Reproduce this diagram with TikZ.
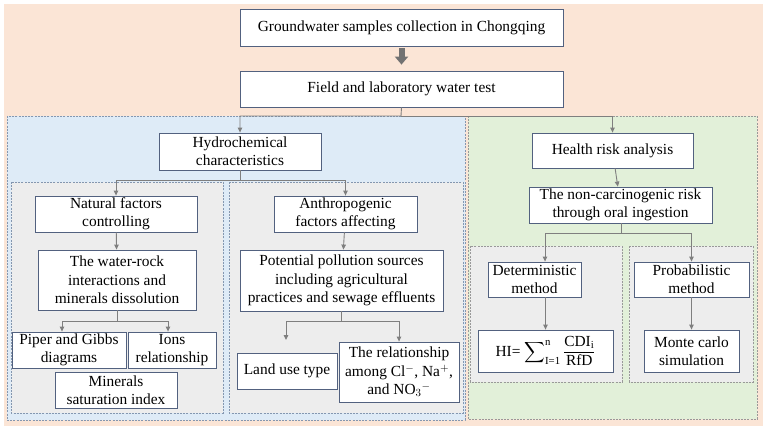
\documentclass[tikz,border=0pt]{standalone}
\usepackage{amsmath}
\usepackage{fontspec}
\setmainfont{Liberation Serif}
\usepackage{tikz}
\usetikzlibrary{arrows.meta}
\definecolor{mypeach}{HTML}{FBE5D6}
\definecolor{myblue}{HTML}{DEEBF7}
\definecolor{mygreen}{HTML}{E2F0D9}
\definecolor{mygray}{HTML}{EDEDED}
\definecolor{boxedge}{HTML}{52617F}
\definecolor{zoneedge}{HTML}{8497B0}
\definecolor{linkgray}{HTML}{7F7F7F}

\begin{document}
\begin{tikzpicture}[x=1pt,y=-1pt,
    box/.style={draw=boxedge, fill=white, line width=0.8pt, align=center,
                inner sep=1pt, font=\rmfamily\fontsize{15.4}{18.3}\selectfont},
    zone/.style={draw=zoneedge, line width=0.7pt, dash pattern=on 2pt off 1.2pt},
    link/.style={draw=linkgray, line width=0.9pt, -{Triangle[length=5pt,width=4.5pt]}},
    fatlink/.style={draw=linkgray!90!black, line width=6pt, -{Triangle[length=8pt,width=13pt]}}]
  \useasboundingbox (0,0) rectangle (767,430);
  % backgrounds
  \fill[mypeach] (4,4) rectangle (763,426);
  \draw[zone, fill=myblue] (7,116) rectangle (465,420);
  \draw[zone, draw=linkgray!80, fill=mygreen] (468,116) rectangle (757,419);
  \draw[zone, fill=mygray] (11,182) rectangle (223,413);
  \draw[zone, fill=mygray] (229,182) rectangle (463,413);
  \draw[zone, draw=linkgray!80, fill=mygray] (470,246) rectangle (622,382);
  \draw[zone, draw=linkgray!80, fill=mygray] (629,246) rectangle (753,382);

  \node[box, minimum width=323pt, minimum height=37pt] (T) at (401.5,27.5) {Groundwater samples collection in Chongqing};
  \node[box, minimum width=323pt, minimum height=36pt] (F) at (401.5,89) {Field and laboratory water test};
  \node[box, minimum width=162pt, minimum height=37pt] (H) at (240,151.5) {Hydrochemical\\characteristics};
  \node[box, minimum width=161pt, minimum height=35pt] (R) at (612.5,150.5) {Health risk analysis};

  \node[box, minimum width=162pt, minimum height=36pt] (N) at (116,214) {Natural factors\\controlling};
  \node[box, minimum width=143pt, minimum height=36pt] (A) at (345.5,214) {Anthropogenic\\factors affecting};
  \node[box, minimum width=158pt, minimum height=60pt] (W) at (117,280) {The water-rock\\interactions and\\minerals dissolution};
  \node[box, minimum width=203pt, minimum height=61pt] (P) at (341.5,280.5) {Potential pollution sources\\including agricultural\\practices and sewage effluents};
  \node[box, minimum width=114pt, minimum height=36pt] (PG) at (69,350) {Piper and Gibbs\\diagrams};
  \node[box, minimum width=88pt, minimum height=36pt] (IR) at (172,350) {Ions\\relationship};
  \node[box, minimum width=122pt, minimum height=36pt] (MS) at (116,390) {Minerals\\saturation index};
  \node[box, minimum width=100pt, minimum height=36pt] (LU) at (287,371) {Land use type};
  \node[box, minimum width=120pt, minimum height=60pt] (CN) at (399,372) {The relationship\\among Cl$^{-}$, Na$^{+}$,\\and NO$_3{}^{-}$};

  \node[box, minimum width=183pt, minimum height=36pt] (NC) at (620.5,205) {The non-carcinogenic risk\\through oral ingestion};
  \node[box, minimum width=93pt, minimum height=35pt] (D) at (534.5,279.5) {Deterministic\\method};
  \node[box, minimum width=115pt, minimum height=35pt] (PM) at (691.5,279.5) {Probabilistic\\method};
  \node[box, minimum width=135pt, minimum height=42pt] (HI) at (545.5,351) {HI= $\displaystyle\sum\nolimits_{\text{I=1}}^{\text{n}}\frac{\text{CDI}_{\text{i}}}{\text{RfD}}$};
  \node[box, minimum width=95pt, minimum height=42pt] (MC) at (691.5,351) {Monte carlo\\simulation};

  \coordinate (s1) at (401,116);
  \coordinate (s2) at (240,180);
  \coordinate (s3) at (117,321);
  \coordinate (s4) at (341.5,321);
  \coordinate (s5) at (621,233);
  \coordinate (lu) at (286,340);

  \draw[fatlink] ([yshift=-2pt]T.south) -- ([yshift=6pt]F.north);
  \draw[link] (F.south) -- (s1) -| (H.north);
  \draw[link] (s1) -| (R.north);
  \draw[link] (H.south) -- (s2) -| (N.north);
  \draw[link] (s2) -| (A.north);
  \draw[link] (N) -- (W);
  \draw[link] (A) -- (P);
  \draw[link] (W.south) -- (s3) -| ([xshift=-7pt]PG.north);
  \draw[link] (s3) -| ([xshift=-4pt]IR.north);
  \draw[link] (P.south) -- (s4) -| (lu);
  \draw[link] (s4) -| (CN.north);
  \draw[link] (R) -- (NC);
  \draw[link] (NC.south -| s5) -- (s5) -| ([xshift=10.5pt]D.north);
  \draw[link] (s5) -| (PM.north);
  \draw[link] (HI.north |- D.south) -- (HI.north);
  \draw[link] (PM) -- (MC);
\end{tikzpicture}
\end{document}
